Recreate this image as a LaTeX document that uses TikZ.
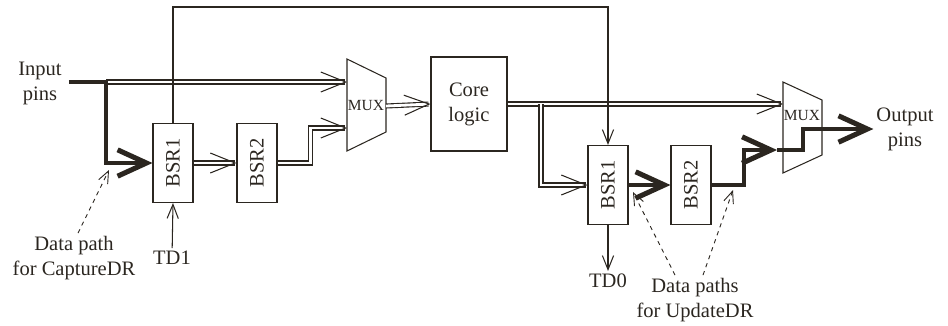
\documentclass[tikz,border=0pt]{standalone}
\usepackage{fontspec}
\setmainfont{Liberation Serif}
\usetikzlibrary{arrows.meta,calc}
\definecolor{ink}{HTML}{2B2620}
\tikzset{
  bsr/.style={rectangle, draw=ink, line width=0.75pt, minimum width=1cm, minimum height=1.975cm, inner sep=0pt},
  corebox/.style={rectangle, draw=ink, line width=0.75pt, minimum width=1.9cm, minimum height=2.35cm, align=center},
  txt/.style={align=center, inner sep=2pt},
  muxtxt/.style={inner sep=0pt, font=\fontsize{11}{12}\selectfont},
  muxline/.style={draw=ink, line width=0.75pt, line join=miter},
  sig/.style={draw=ink, line width=0.75pt, -{Straight Barb[length=0.35cm,width=0.28cm]}},
  bus/.style={draw=ink, line width=0.8pt, double=white, double distance=2pt, -{Straight Barb[length=0.62cm,width=0.5cm,line width=0.75pt]}},
  scan/.style={draw=ink, line width=2.8pt, -{Straight Barb[length=0.72cm,width=0.66cm,line width=3.6pt]}},
  note/.style={draw=ink, line width=0.65pt, dashed, -{Straight Barb[length=0.3cm,width=0.25cm]}},
}
\begin{document}
\begin{tikzpicture}[x=0.025cm,y=-0.025cm, every node/.style={text=ink, font=\fontsize{14.6}{17.8}\selectfont}]
  \useasboundingbox (0,0) rectangle (948,325);
  % input side
  \node[txt] (inp) at (40,83) {Input\\pins};
  \node[bsr] (capA) at (173,163) {\rotatebox{90}{BSR1}};
  \node[bsr] (capB) at (257,163) {\rotatebox{90}{BSR2}};
  \node[txt] (td1) at (172,258) {TD1};
  \node[txt] (capnote) at (74,258) {Data path\\for CaptureDR};
  \coordinate (split) at (106,82);
  \coordinate (captip) at (109,170);
  % first mux and core
  \draw[muxline] (347,59) -- (386,78) -- (386,132) -- (347,151) -- cycle;
  \node[muxtxt] (mux1) at (366,106) {MUX};
  \coordinate (m1a) at (347,82);
  \coordinate (m1b) at (347,128);
  \coordinate (m1o) at (386,106);
  \node[corebox] (core) at (469,104) {Core\\logic};
  % output side
  \node[bsr] (updA) at (608,185) {\rotatebox{90}{BSR1}};
  \node[bsr] (updB) at (691,185) {\rotatebox{90}{BSR2}};
  \node[txt] (td0) at (608,281) {TD0};
  \node[txt] (updnote) at (695,300) {Data paths\\for UpdateDR};
  \draw[muxline] (783,82) -- (822,100) -- (822,155) -- (783,173) -- cycle;
  \node[muxtxt] (mux2) at (802,116) {MUX};
  \coordinate (m2a) at (783,104);
  \coordinate (m2b) at (777,150);
  \node[txt] (outp) at (905,129) {Output\\pins};
  \coordinate (tap) at (541,104);
  \coordinate (updtipA) at (633,192);
  \coordinate (updtipB) at (733,190);

  % buses
  \draw[bus] (split) -- (m1a);
  \draw[bus] (capA.east) -- (capB.west);
  \draw[bus] (capB.east) -- ++(33,0) |- (m1b);
  \draw[bus] (m1o) -- (core.west);
  \draw[bus] (core.east) -- (m2a);
  \draw[bus] (tap) |- (updA.west);
  % scan chain wires
  \draw[sig] (capA.north) -- (capA.north |- 0,7) -| (updA.north);
  \draw[sig] (td1) -- (capA.south);
  \draw[sig] (updA.south) -- (td0);
  % highlighted data paths
  \draw[scan] ($(inp.east |- split)+(4,0)$) -- (split) |- (capA.west);
  \draw[scan] (updA.east) -- (updB.west);
  \draw[scan] (updB.east) -- ++(32,0) |- (m2b);
  \draw[scan] (m2b) -- ++(26,0) |- (outp.west);
  % notes
  \draw[note] ($(capnote.north)+(4,0)$) -- (captip);
  \draw[note] ($(updnote.north)+(-20,0)$) -- (updtipA);
  \draw[note] ($(updnote.north)+(8,0)$) -- (updtipB);
\end{tikzpicture}
\end{document}
